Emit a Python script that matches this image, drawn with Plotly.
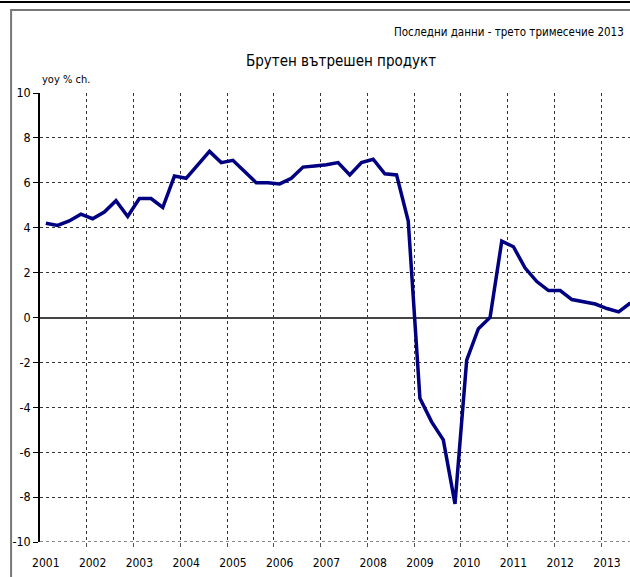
import plotly.graph_objects as go

years = [str(y) for y in range(2001, 2014)]
quarters = [f"{y} Q{q}" for y in range(2001, 2014) for q in range(1, 5)][:51]
gdp_yoy = [
    4.2, 4.1, 4.3, 4.6,
    4.4, 4.7, 5.2, 4.5,
    5.3, 5.3, 4.9, 6.3,
    6.2, 6.8, 7.4, 6.9,
    7.0, 6.5, 6.0, 6.0,
    5.95, 6.2, 6.7, 6.75,
    6.8, 6.9, 6.35, 6.9,
    7.05, 6.4, 6.35, 4.3,
    -3.6, -4.65, -5.45, -8.3,
    -1.9, -0.5, 0.0, 3.4,
    3.15, 2.2, 1.6, 1.2,
    1.2, 0.8, 0.7, 0.6,
    0.4, 0.25, 0.65,
]
y_ticks = list(range(-10, 11, 2))
y_tick_labels = [str(v) for v in y_ticks]

title_text = "Брутен вътрешен продукт"
subtitle_text = "Последни данни - трето тримесечие 2013"
unit_text = "yoy % ch."

FONT = "Liberation Sans Narrow, DejaVu Sans Condensed, Arial Narrow, Tahoma, sans-serif"

x_idx = list(range(len(gdp_yoy)))
label_pos = [4 * k for k in range(len(years))]
grid_pos = [4 * k - 0.5 for k in range(1, len(years) + 1)]

fig = go.Figure()
fig.add_trace(go.Scatter(
    x=x_idx, y=gdp_yoy, mode="lines",
    line=dict(color="#000080", width=3.5),
    text=quarters, hoverinfo="text+y", showlegend=False,
))

fig.update_layout(
    width=630, height=577,
    margin=dict(l=40, r=0, t=93, b=35),
    paper_bgcolor="white", plot_bgcolor="white",
    font=dict(family=FONT, size=12, color="black"),
    xaxis=dict(
        range=[-0.5, 49.97],
        tickmode="array", tickvals=label_pos, ticktext=years,
        showgrid=False, ticks="", showline=False, zeroline=False,
        tickfont=dict(size=12), ticklabelstandoff=12,
        minor=dict(tickmode="array", tickvals=grid_pos, showgrid=True,
                   gridcolor="#333333", griddash="dot", gridwidth=1,
                   ticks="outside", ticklen=4, tickcolor="#555555"),
    ),
    yaxis=dict(
        range=[-10, 10], tickmode="array", tickvals=y_ticks, ticktext=y_tick_labels,
        showgrid=True, gridcolor="#333333", griddash="dot", gridwidth=1,
        zeroline=True, zerolinecolor="#444444", zerolinewidth=1.5,
        showline=True, linecolor="black", linewidth=1.5,
        ticks="outside", ticklen=5, tickcolor="black",
        tickfont=dict(size=12.5),
    ),
    shapes=[
        dict(type="rect", xref="paper", yref="paper",
             x0=-0.049, x1=1.2, y0=-0.3, y1=1.185,
             line=dict(color="#777777", width=2), layer="below"),
        dict(type="line", xref="paper", yref="paper",
             x0=-0.1, x1=1.2, y0=1.2027, y1=1.2027,
             line=dict(color="black", width=2)),
        dict(type="line", xref="paper", yref="y",
             x0=0, x1=1, y0=-10, y1=-10,
             line=dict(color="#888888", width=2, dash="dot")),
    ],
    annotations=[
        dict(text=subtitle_text, xref="paper", yref="paper",
             x=0.993, y=1.136, xanchor="right", yanchor="middle",
             showarrow=False, font=dict(size=11.5)),
        dict(text=title_text, xref="paper", yref="paper",
             x=0.510, y=1.071, xanchor="center", yanchor="middle",
             showarrow=False, font=dict(size=15)),
        dict(text=unit_text, xref="paper", yref="paper",
             x=0.0, y=1.029, xanchor="left", yanchor="middle",
             showarrow=False, font=dict(size=11)),
    ],
)

fig.write_html(
    "out.html",
    config={"displayModeBar": False},
    post_script="document.body.style.margin='0px';document.body.style.overflow='hidden';",
)
